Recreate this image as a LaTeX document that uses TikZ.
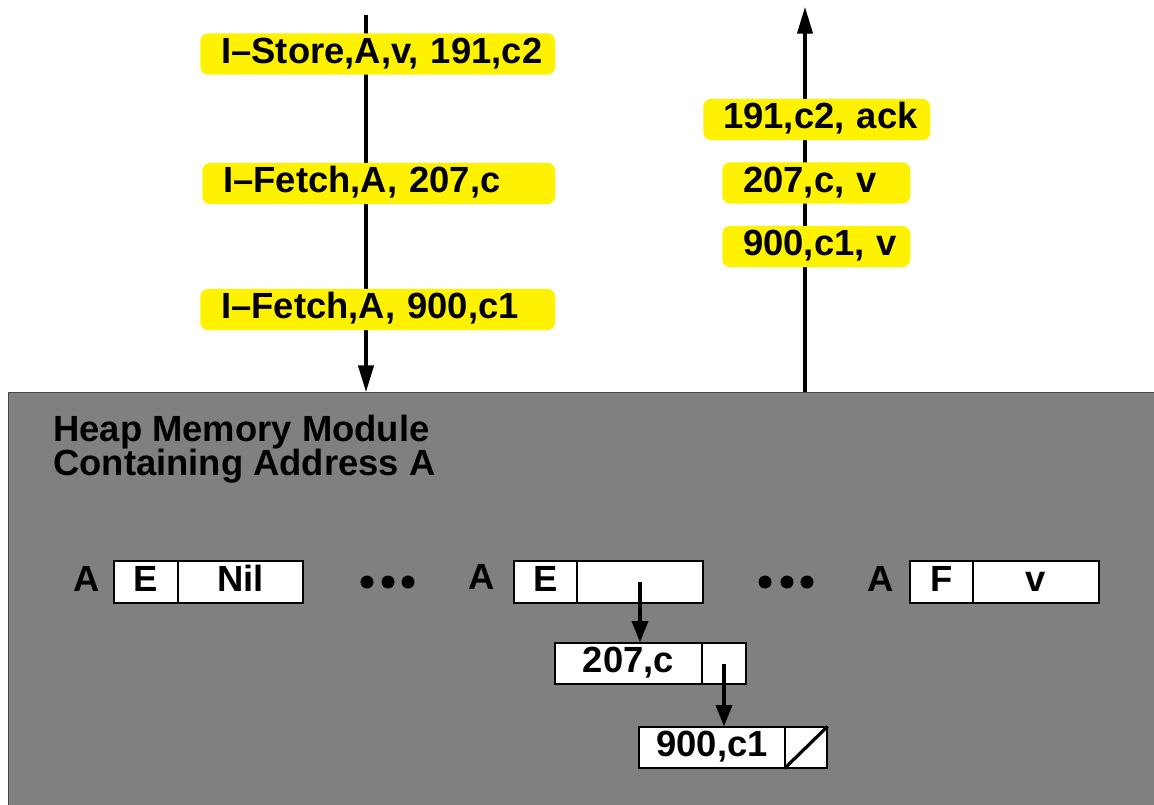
\documentclass[tikz,border=0pt]{standalone}
\usepackage{fontspec}
\setmainfont{Liberation Sans}
\usetikzlibrary{arrows.meta}
\newcommand\figfont{\fontsize{27.3pt}{32pt}\selectfont\bfseries}
\definecolor{modgray}{RGB}{128,128,128}
\definecolor{modedge}{RGB}{70,70,70}
\tikzset{
  every node/.style={font=\figfont, text=black},
  txt/.style={inner sep=0pt, text height=19.5pt, text depth=6pt},
  ybox/.style={txt, fill=yellow, rounded corners=6pt, anchor=west, align=left, minimum height=31pt},
  cell/.style={txt, draw=black, fill=white, line width=0.8pt, minimum height=31.5pt},
  bigarrow/.style={line width=2.3pt, -{Triangle[length=20pt, width=11.5pt]}},
  smallarrow/.style={line width=2.4pt, -{Triangle[length=16pt, width=12pt]}},
  dotmark/.style={fill=black},
}
\begin{document}
\begin{tikzpicture}[x=0.75pt, y=-0.75pt]
\useasboundingbox (0,0) rectangle (1154,804);
% module
\node[draw=modedge, fill=modgray, line width=1pt, minimum width=870pt, minimum height=320pt, anchor=north west, inner sep=0pt] (mod) at (8,392) {};
% incoming / outgoing arrows
\coordinate (inTop) at (366,15);
\coordinate (outTop) at (805,7);
\draw[bigarrow] (inTop) -- (inTop |- mod.north);
\draw[bigarrow] (outTop |- mod.north) -- (outTop);
% message labels
\node[ybox, text width=266.25pt] (m1) at (200,54) {\hspace*{15.75pt}I–Store,A,v, 191,c2};
\node[ybox, text width=264.75pt] (m2) at (202,183.5) {\hspace*{15.75pt}I–Fetch,A, 207,c};
\node[ybox, text width=266.25pt] (m3) at (200,309.5) {\hspace*{15.75pt}I–Fetch,A, 900,c1};
\node[ybox, text width=170.25pt] (r1) at (703,119.5) {\hspace*{15pt}191,c2, ack};
\node[ybox, text width=141pt] (r2) at (722,183) {\hspace*{15.75pt}207,c, v};
\node[ybox, text width=141pt] (r3) at (722,246.5) {\hspace*{15.75pt}900,c1, v};
% heading
\node[anchor=base west, inner sep=0pt] (h1) at (53,441) {Heap Memory Module};
\node[anchor=base west, inner sep=0pt] (h2) at (53,475) {Containing Address A};
% row of entries
\node[txt] (a1) at (87,582) {A};
\node[cell, minimum width=48pt] (c1e) at (146,582) {E};
\node[cell, minimum width=93.75pt] (c1n) at (240.5,582) {Nil};
\fill[dotmark] (367,582) circle (6.5);
\fill[dotmark] (388,582) circle (6.5);
\fill[dotmark] (408,582) circle (6.5);
\node[txt] (a2) at (482,580) {A};
\node[cell, minimum width=47.25pt] (c2e) at (545.5,582) {E};
\node[cell, minimum width=94.5pt] (c2p) at (640,582) {};
\fill[dotmark] (765,582) circle (6.5);
\fill[dotmark] (787,582) circle (6.5);
\fill[dotmark] (807,582) circle (6.5);
\node[txt] (a3) at (881,582) {A};
\node[cell, minimum width=47.25pt] (c3f) at (941.5,582) {F};
\node[cell, minimum width=94.5pt] (c3v) at (1036,582) {v};
% linked list
\node[cell, minimum width=110.25pt, minimum height=30.75pt] (n207) at (628.5,663.5) {207,c};
\node[cell, minimum width=33pt, minimum height=30.75pt] (p207) at (724,663.5) {};
\node[cell, minimum width=109.5pt, minimum height=30.75pt] (n900) at (712,747.5) {900,c1};
\node[cell, minimum width=31.5pt, minimum height=30.75pt] (p900) at (806,747.5) {};
\draw[line width=2.4pt] (p900.south west) -- (p900.north east);
\draw[smallarrow] (c2p.center) -- (c2p.center |- n207.north);
\draw[smallarrow] (p207.center) -- (p207.center |- n900.north);
\end{tikzpicture}
\end{document}
